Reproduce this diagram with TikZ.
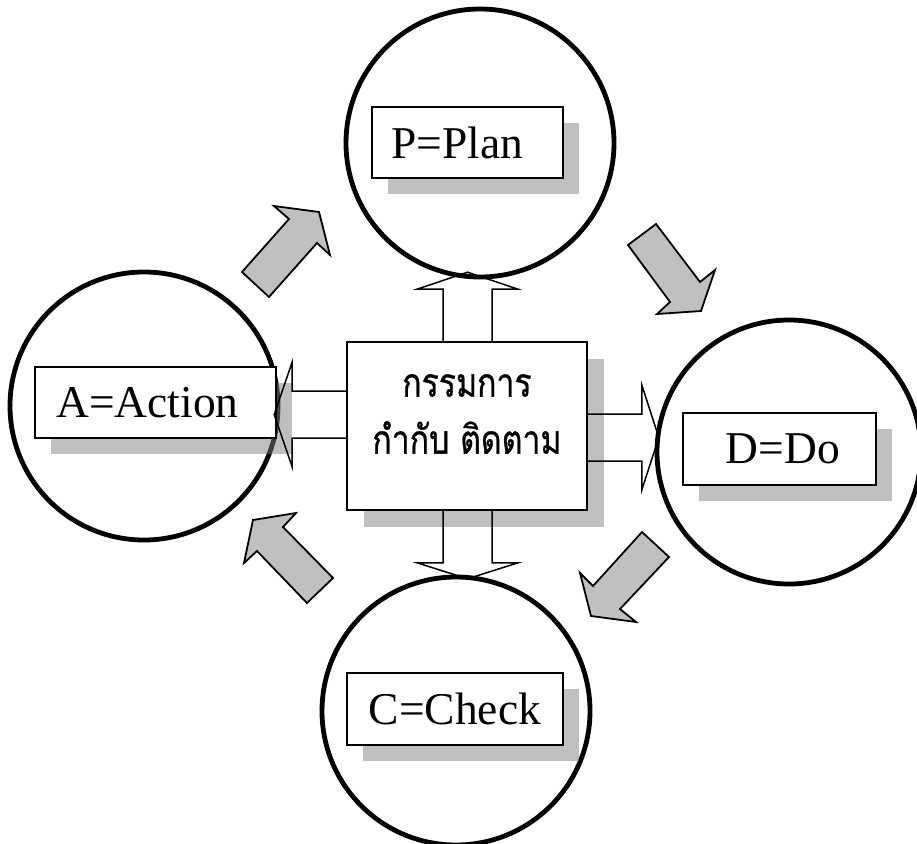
\documentclass[tikz,border=0pt]{standalone}
\usepackage{fontspec}
\setmainfont{Liberation Serif}
\newfontfamily\thaifont[Script=Thai,FakeBold=0.7,FakeStretch=0.8]{Loma}
\usetikzlibrary{shadows}
\definecolor{arrowgray}{HTML}{C0C0C0}
\begin{document}
\begin{tikzpicture}[x=1pt,y=-1pt,
  ring/.style={circle, draw, line width=4.8pt, minimum size=268pt, inner sep=0pt},
  tag/.style={draw, line width=1.6pt, fill=white, inner sep=0pt,
    font=\fontsize{45.5}{48}\selectfont,
    drop shadow={shadow xshift=16pt, shadow yshift=-16pt, fill=gray, opacity=0.5}},
  bigarrow/.style={draw, line width=1.8pt, fill=arrowgray, line join=miter},
  hollow/.style={draw, line width=1.5pt, line join=miter},
]
\useasboundingbox (0,0) rectangle (917,843);

% circles
\node[ring] (cp) at (480,143) {};
\node[ring] (ca) at (144,406) {};
\node[ring, minimum size=264pt] (cd) at (789,452) {};
\node[ring] (cc) at (456,711) {};

% grey block arrows
\draw[bigarrow] (242,272) -- (269,297) -- (317,243) -- (330,255) -- (319,212) -- (274,206) -- (289,219) -- cycle;
\draw[bigarrow] (656,224) -- (628,245) -- (670,302) -- (657,314) -- (701,311) -- (715,270) -- (700,282) -- cycle;
\draw[bigarrow] (642,532) -- (669,557) -- (620,609) -- (636,622) -- (591,616) -- (580,573) -- (593,586) -- cycle;
\draw[bigarrow] (333,578) -- (307,603) -- (257,551) -- (244,563) -- (253,520) -- (296,513) -- (283,527) -- cycle;

% label boxes
\node[tag, minimum width=191pt, minimum height=71pt] (bp) at (467.5,142.5) {P=Plan\kern20pt};
\node[tag, minimum width=241pt, minimum height=71pt] (ba) at (155.5,402.5) {A=Action\kern16pt};
\node[tag, minimum width=193pt, minimum height=72pt] (bd) at (779.5,449) {\kern7pt D=Do};
\node[tag, minimum width=216pt, minimum height=72pt] (bc) at (455,709) {C=Check};

% centre box
\node[draw, line width=1.6pt, fill=white, minimum width=240pt, minimum height=168pt,
  drop shadow={shadow xshift=17pt, shadow yshift=-17pt, fill=gray, opacity=0.5}] (ctr) at (467,426) {};
\node[align=center, font=\thaifont\fontsize{40}{57}\selectfont] (ttl) at (467,414) {กรรมการ\\กำกับ ติดตาม};

% hollow arrows from the centre box
\draw[hollow] (ctr.north) ++(-24,0) -- ++(0,-52) -- ++(-26,0) -- ++(50.5,-17) -- ++(50.5,17) -- ++(-26,0) -- ++(0,52);
\draw[hollow] (ctr.south) ++(-24,0) -- ++(0,52) -- ++(-26,0) -- ++(50.5,16) -- ++(50.5,-16) -- ++(-26,0) -- ++(0,-52);
\draw[hollow] (ctr.west) ++(0,-35) -- ++(-54,0) -- ++(0,-29) -- ++(-18,52.5) -- ++(18,52.5) -- ++(0,-29) -- ++(54,0);
\draw[hollow] (ctr.east) ++(0,-12) -- ++(54,0) -- ++(0,-29) -- ++(17,52.5) -- ++(-17,52.5) -- ++(0,-29) -- ++(-54,0);
\end{tikzpicture}
\end{document}
